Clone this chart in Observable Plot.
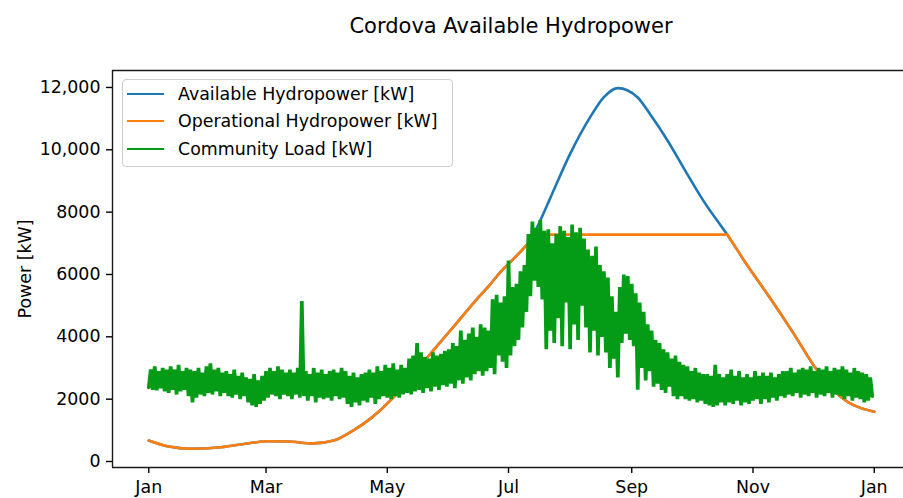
<!DOCTYPE html>
<html>
<head>
<meta charset="utf-8">
<script src="https://cdn.jsdelivr.net/npm/d3@7"></script>
<script src="https://cdn.jsdelivr.net/npm/@observablehq/plot@0.6"></script>
<style>
  body { margin: 0; background: #fff; font-family: "DejaVu Sans", sans-serif; }
  #wrap { position: relative; width: 903px; height: 498px; overflow: hidden; background: #fff; }
  #title { position: absolute; left: 511px; top: 14px; transform: translateX(-50%); font-size: 21px; line-height: 24px; white-space: nowrap; color: #000; }
  #chart { position: absolute; left: 0; top: 45px; }
  #legend { position: absolute; left: 122px; top: 79px; width: 331px; height: 88px; box-sizing: border-box; border: 1px solid #cccccc; border-radius: 4px; background: rgba(255,255,255,0.8); }
  .sw { position: absolute; left: 4px; width: 37px; height: 2.6px; }
  .lt { position: absolute; left: 55px; font-size: 17.4px; line-height: 20px; white-space: nowrap; color: #000; }
</style>
</head>
<body>
<div id="wrap">
  <div id="title"></div>
  <div id="chart"></div>
  <div id="legend"></div>
</div>
<script>
// ---------------- data ----------------
const chartTitle = "Cordova Available Hydropower";
const yLabel = "Power [kW]";
const seriesNames = ["Available Hydropower [kW]", "Operational Hydropower [kW]", "Community Load [kW]"];
const seriesColors = ["#1f77b4", "#ff7f0e", "#049c16"];

// x ticks (first of month) and labels
const xTickDates = ["2019-01-01", "2019-03-01", "2019-05-01", "2019-07-01", "2019-09-01", "2019-11-01", "2020-01-01"];
const xTickLabels = ["Jan", "Mar", "May", "Jul", "Sep", "Nov", "Jan"];
const yTicks = [0, 2000, 4000, 6000, 8000, 10000, 12000];
const yTickLabels = ["0", "2000", "4000", "6000", "8000", "10,000", "12,000"];

// Available hydropower: day of year -> kW
const availDays = [0,10,21,35,46,60,70,83,93,103,112,123,135,145,155,165,172,177,183,188,191,193.5,196,202,212,222,229,236,246,252,261,269,279,291,292.5,300,312,324,336,345,352,358,365];
const availKW   = [674,480,410,450,545,650,640,580,670,1000,1400,2050,2950,3700,4450,5200,5700,6080,6470,6800,7020,7280,7600,8450,9870,11040,11690,11980,11680,11165,10300,9430,8370,7280,7140,6400,5300,4150,2950,2250,1900,1720,1600];

// Operational hydropower: day of year -> kW
const operDays = [0,10,21,35,46,60,70,83,93,103,112,123,135,145,155,165,172,177,183,188,191,193.5,291,292.5,300,312,324,336,345,352,358,365];
const operKW   = [674,480,410,450,545,650,640,580,670,1000,1400,2050,2950,3700,4450,5200,5700,6080,6470,6800,7020,7280,7280,7140,6400,5300,4150,2950,2250,1900,1720,1600];

// Community load, one reading per day (alternating daily low / high), kW
const loadKW = [
  2380,2950,2300,3050,2280,2900,2350,3000,2250,2950,
  2200,3050,2300,2950,2150,3100,2250,2900,2300,3000,
  2100,2950,1900,2900,2050,3000,2150,2850,2100,3050,
  2200,3150,2150,2950,2250,3000,2100,2850,2200,2900,
  2100,2800,2050,2950,2150,2750,2000,2850,2100,2700,
  1900,2650,1800,2800,1750,2600,1850,2750,1950,2900,
  2050,3000,2150,2900,2100,3050,2000,2950,2150,2850,
  2100,2950,2000,2850,2150,3000,2050,5150,2100,2900,
  1950,2800,2100,3000,1900,2850,2050,2950,2000,2800,
  2050,2900,1950,2950,2100,2850,2000,3000,2050,2900,
  1850,2750,1750,2850,1900,2700,1800,2800,1950,2850,
  1900,2950,2050,2850,1850,3050,2000,2900,2100,3100,
  2050,3000,2000,3150,2100,2950,2050,3100,2150,3000,
  2200,3300,2150,3400,2250,3800,2300,3500,2200,3350,
  2350,3300,2250,3500,2400,3400,2300,3450,2450,3550,
  2400,3600,2500,3800,2350,3700,2600,4200,2500,3900,
  2700,4100,2600,4300,2800,4000,2900,4400,2750,4300,
  2900,4200,3000,5200,2800,5350,3400,5100,3200,5300,
  3000,6450,3400,5600,3700,5700,3900,6100,4300,6300,
  4800,7300,5300,7700,5800,7500,5600,7750,5200,7400,
  3600,7450,4200,7000,3800,7300,4600,7550,3700,7400,
  5100,7200,3600,7600,4400,7350,3900,7500,5000,7150,
  4300,6800,3500,6600,4200,6900,3400,6300,4000,6100,
  3500,5900,3000,5300,3300,4800,2700,5600,3800,6000,
  4100,5950,3900,5700,3700,5400,2300,5100,3000,4800,
  2600,4400,2900,4200,2400,3900,2500,3800,2300,3600,
  2200,3500,2400,3300,2100,3400,2000,3200,2100,3100,
  2000,3050,1950,2900,2000,3000,1900,2850,1950,2800,
  1850,2800,1800,2750,1750,3100,1800,2800,1900,2700,
  1800,2800,1900,2950,1850,2750,1950,2900,1800,2700,
  1900,2800,1850,2700,1950,2900,2000,2750,1850,2850,
  2000,2750,1900,2850,2050,2700,1950,2800,2100,2900,
  2050,2900,2150,3000,2100,2850,2200,2950,2050,3000,
  2150,2950,2100,3050,2200,2900,2050,3000,2150,2950,
  2100,3050,2200,2900,2050,3000,2150,2950,2100,3050,
  2000,2950,2100,2850,1950,3000,2050,2900,2000,2850,
  1900,2800,1950,2700,2100
];

// ---------------- build ----------------
const DAY = 864e5, T0 = Date.UTC(2019, 0, 1);
const toDate = d => new Date(T0 + d * DAY);
const availData = availDays.map((d, i) => ({date: toDate(d), kw: availKW[i]}));
const operData = operDays.map((d, i) => ({date: toDate(d), kw: operKW[i]}));
const loadData = loadKW.map((v, i) => ({date: toDate(i), kw: v}));
const xTicks = xTickDates.map(s => new Date(s + "T00:00:00Z"));

const xDomain = [toDate(-18.25), toDate(383.25)];
const yDomain = [-192.5, 12544];
const spine = {stroke: "#1a1a1a", strokeWidth: 1.4};

const chart = Plot.plot({
  width: 903,
  height: 453,
  marginTop: 25,
  marginBottom: 31,
  marginLeft: 112,
  marginRight: 0,
  style: {fontFamily: '"DejaVu Sans", sans-serif', fontSize: "17.4px", background: "white", color: "#000"},
  x: {type: "utc", domain: xDomain, range: [112, 910]},
  y: {domain: yDomain},
  marks: [
    Plot.line(availData, {x: "date", y: "kw", stroke: seriesColors[0], strokeWidth: 2.6, curve: "monotone-x"}),
    Plot.line(operData, {x: "date", y: "kw", stroke: seriesColors[1], strokeWidth: 2.6, curve: "monotone-x"}),
    Plot.line(loadData, {x: "date", y: "kw", stroke: seriesColors[2], strokeWidth: 3.7, curve: "linear", strokeLinejoin: "miter", strokeMiterlimit: 2}),
    Plot.ruleY([yDomain[1]], spine),
    Plot.ruleY([yDomain[0]], spine),
    Plot.ruleX([xDomain[0]], spine),
    Plot.axisY({ticks: yTicks, tickFormat: d => yTickLabels[yTicks.indexOf(d)], tickSize: 6, tickPadding: 6, label: null, strokeWidth: 1.4, fontSize: 17.4}),
    Plot.axisX({ticks: xTicks, tickFormat: d => xTickLabels[xTicks.findIndex(t => +t === +d)], tickSize: 6, tickPadding: 7, label: null, strokeWidth: 1.4, fontSize: 17.4}),
    Plot.text([yLabel], {text: d => d, frameAnchor: "left", dx: -87, rotate: -90, textAnchor: "middle", lineAnchor: "middle", fontSize: 17.4})
  ]
});
document.getElementById("chart").appendChild(chart);
document.getElementById("title").textContent = chartTitle;

// legend
const legend = document.getElementById("legend");
const rowCenters = [14, 41, 69];
seriesNames.forEach((name, i) => {
  const sw = document.createElement("div");
  sw.className = "sw";
  sw.style.top = (rowCenters[i] - 1.3) + "px";
  sw.style.background = seriesColors[i];
  legend.appendChild(sw);
  const t = document.createElement("div");
  t.className = "lt";
  t.style.top = (rowCenters[i] - 10) + "px";
  t.textContent = name;
  legend.appendChild(t);
});
</script>
</body>
</html>
